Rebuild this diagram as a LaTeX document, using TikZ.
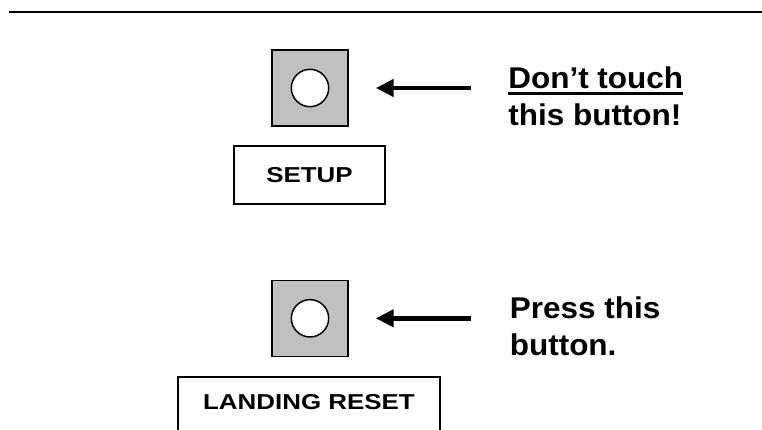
\documentclass[tikz,border=0pt]{standalone}
\usepackage{fontspec}
\setmainfont{Liberation Sans}
\newfontfamily\notefont{Liberation Sans}[FakeStretch=1.05]
\newfontfamily\panelfont{Liberation Sans}[FakeStretch=1.2]
\usetikzlibrary{arrows.meta}
\definecolor{btngray}{RGB}{192,192,192}
\newsavebox\ulbox
\newcommand{\thickul}[1]{\sbox\ulbox{#1}\rlap{\rule[-5.1pt]{\wd\ulbox}{2.2pt}}\usebox\ulbox}
\begin{document}
\begin{tikzpicture}[x=0.75pt, y=-0.75pt, line join=miter, >={Triangle[length=13.5pt,width=12.75pt]}]
	\tikzset{
		button/.style={draw, line width=1.1pt, fill=btngray, minimum size=57pt, inner sep=0pt},
		knob/.style={draw, circle, line width=1.1pt, fill=white, minimum size=28pt, inner sep=0pt},
		panel/.style={draw, line width=1.3pt, inner sep=0pt, font=\panelfont\bfseries\fontsize{16.2}{19}\selectfont},
		note/.style={anchor=base west, align=left, inner sep=0pt, font=\notefont\bfseries\fontsize{22.5}{27.5}\selectfont},
		pointer/.style={->, line width=3.3pt}
	}
	\useasboundingbox (0,0) rectangle (762,429);
	\draw[line width=1.5pt] (9,11.5) -- (762,11.5);
	% upper button
	\node[button] (btn1) at (310,88) {};
	\node[knob] (knob1) at (btn1) {};
	\node[panel, minimum width=113pt, minimum height=43.5pt] (setup) at (309.5,175) {SETUP};
	\node[note] (note1) at (508,125) {\thickul{Don’t touch}\\this button!};
	\coordinate (tail1) at (471,88);
	\draw[pointer, shorten >=20.25pt] (tail1) -- (btn1.east);
	% lower button
	\node[button] (btn2) at (310,318.3) {};
	\node[knob] (knob2) at (btn2) {};
	\node[panel, anchor=north, minimum width=196.5pt, text height=11.5pt, text depth=30pt, inner ysep=13pt] (landing) at (309,376) {LANDING RESET};
	\node[note] (note2) at (509.5,355.5) {Press this\\button.};
	\coordinate (tail2) at (471,318.3);
	\draw[pointer, shorten >=20.25pt] (tail2) -- (btn2.east);
\end{tikzpicture}
\end{document}
